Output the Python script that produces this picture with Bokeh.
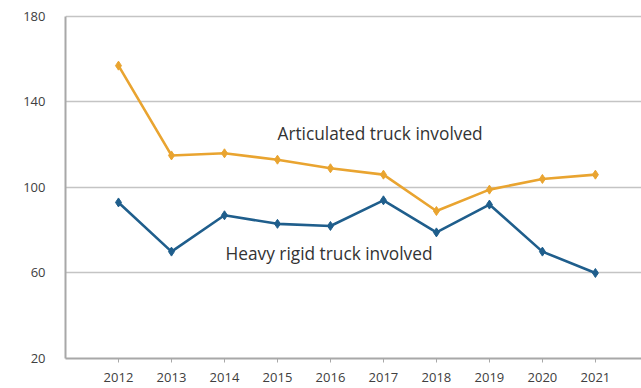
from bokeh.plotting import figure
from bokeh.models import Range1d, FixedTicker, Label
from bokeh.embed import file_html
from bokeh.resources import INLINE

years = [2012, 2013, 2014, 2015, 2016, 2017, 2018, 2019, 2020, 2021]
articulated = [157, 115, 116, 113, 109, 106, 89, 99, 104, 106]
heavy_rigid = [93, 70, 87, 83, 82, 94, 79, 92, 70, 60]
y_ticks = [20, 60, 100, 140, 180]
label_art = "Articulated truck involved"
label_rigid = "Heavy rigid truck involved"

ORANGE = "#E9A430"
BLUE = "#1F5E8C"
FONT = "Open Sans"
GRID = "#C4C4C4"

p = figure(width=641, height=388, output_backend="svg", toolbar_location=None,
           x_range=Range1d(2011, 2021.87), y_range=Range1d(20, 184.2),
           min_border_left=65, min_border_right=0, min_border_top=7, min_border_bottom=30)
p.outline_line_color = None
p.background_fill_color = "white"

p.hspan(y=y_ticks[1:], line_color=GRID, line_width=1.3)

p.line(years, articulated, line_color=ORANGE, line_width=2.6)
p.scatter(years, articulated, marker="diamond", size=9, fill_color=ORANGE, line_color=ORANGE)
p.line(years, heavy_rigid, line_color=BLUE, line_width=2.6)
p.scatter(years, heavy_rigid, marker="diamond", size=9, fill_color=BLUE, line_color=BLUE)

p.add_layout(Label(x=2015.0, y=125.3, text=label_art, text_font=FONT, text_font_size="17.3px",
                   text_color="#333333", text_baseline="middle"))
p.add_layout(Label(x=2014.02, y=69.2, text=label_rigid, text_font=FONT, text_font_size="17.3px",
                   text_color="#333333", text_baseline="middle"))

p.xaxis.ticker = FixedTicker(ticks=years)
p.yaxis.ticker = FixedTicker(ticks=y_ticks)
p.xgrid.grid_line_color = None
p.ygrid.grid_line_color = None
p.yaxis.bounds = (y_ticks[0], y_ticks[-1])

for ax in (p.xaxis[0], p.yaxis[0]):
    ax.axis_line_color = "#A8A8A8"
    ax.axis_line_width = 2
    ax.major_label_text_font = FONT
    ax.major_label_text_font_size = "13px"
    ax.major_label_text_color = "#404040"
    ax.minor_tick_line_color = None

p.xaxis.major_tick_line_color = "#A8A8A8"
p.xaxis.major_tick_in = 0
p.xaxis.major_tick_out = 4
p.xaxis.major_label_standoff = 10
p.yaxis.major_tick_line_color = None
p.yaxis.major_label_standoff = 14

open("out.html", "w").write(file_html(p, INLINE))
